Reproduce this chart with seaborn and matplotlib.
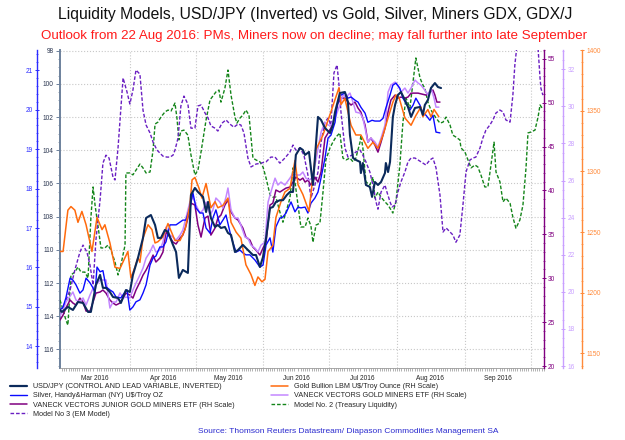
import numpy as np
import pandas as pd
import matplotlib
matplotlib.use("Agg")
import matplotlib.pyplot as plt
import matplotlib.dates as mdates
from matplotlib.lines import Line2D
from matplotlib.ticker import MultipleLocator
import seaborn as sns

# --- data (days counted from 1 Mar 2016, values in each series' own units) ---
start = pd.Timestamp("2016-03-01")

usdjpy_day = [-0.9, 0, 2.7, 5.0, 7.3, 9.6, 11.9, 13.2, 15.5, 17.4, 18.7, 20.1, 21.9, 23.3, 25.6, 26.9, 29.2, 31.0,
              32.4, 34.7, 37.0, 38.4, 40.6, 42.5, 43.8, 45.2, 47.0, 48.4, 50.7, 52.1, 53.4, 55.2, 57.5, 58.9, 60.7,
              62.1, 64.4, 65.8, 66.7, 68.0, 69.9, 71.2, 72.6, 74.4, 75.8, 77.2, 79.0, 80.4, 82.6, 84.9, 87.2, 88.6,
              90.4, 91.8, 93.2, 95.0, 96.3, 97.7, 99.5, 100.9, 102.7, 104.1, 105.5, 106.8, 108.7, 110.0, 111.0,
              112.8, 114.6, 116.9, 118.3, 120.1, 122.4, 123.7, 124.7, 126.9, 129.2, 130.6, 131.5, 132.9, 134.2,
              136.1, 136.5, 137.4, 138.8, 140.6, 141.6, 142.9, 144.3, 145.7, 147.5, 147.9, 148.9, 149.8, 151.1,
              152.1, 153.4, 154.8, 156.6, 158.0, 159.4, 161.2, 163.5, 164.8, 165.7, 167.1, 168.5, 170.3, 171.7, 173.1]
usdjpy_val = [113.62, 113.74, 113.44, 113.62, 113.14, 113.20, 113.74, 113.74, 112.11, 111.51, 112.29, 112.29, 112.54,
              112.84, 112.90, 113.20, 112.42, 112.54, 111.51, 110.49, 109.28, 108.08, 107.90, 108.50, 109.28, 109.28,
              108.80, 108.92, 109.70, 110.13, 111.69, 111.21, 111.39, 106.69, 106.27, 106.51, 106.81, 107.72, 107.11,
              108.08, 108.62, 108.50, 108.68, 108.62, 108.98, 109.10, 110.13, 110.01, 109.70, 110.01, 110.31, 110.31,
              111.03, 110.43, 109.28, 107.48, 107.42, 107.11, 107.01, 107.01, 106.69, 106.51, 106.51, 104.28, 103.86,
              103.98, 104.28, 104.10, 106.09, 101.99, 102.17, 102.66, 102.96, 102.48, 101.69, 100.55, 100.49, 101.09,
              103.08, 104.46, 104.58, 104.70, 105.37, 104.77, 106.09, 106.21, 106.81, 105.91, 106.09, 105.91, 105.37,
              104.77, 105.31, 104.70, 101.99, 101.27, 100.67, 100.49, 100.97, 101.39, 101.99, 101.45, 101.39, 101.87,
              101.27, 100.97, 100.25, 99.95, 100.19, 100.25]

silver_day = [-0.9, 0.5, 1.8, 3.7, 5.0, 6.4, 8.2, 9.6, 11.0, 12.8, 14.2, 15.1, 16.0, 17.4, 18.7, 20.1, 21.9, 23.3,
              24.7, 26.9, 28.8, 29.7, 31.0, 32.4, 33.8, 35.6, 37.0, 38.4, 40.2, 41.6, 42.9, 44.7, 46.1, 47.5, 49.3,
              50.7, 52.1, 53.9, 55.2, 56.6, 58.4, 59.8, 61.2, 63.0, 64.4, 65.8, 67.6, 68.9, 70.3, 72.1, 73.5, 74.9,
              76.7, 78.1, 79.5, 81.3, 82.6, 84.0, 85.8, 88.1, 90.4, 91.8, 93.2, 95.0, 96.3, 97.7, 99.5, 100.9, 102.3,
              104.6, 106.4, 107.8, 109.1, 111.0, 112.3, 113.7, 115.5, 116.9, 118.3, 120.1, 121.5, 122.8, 124.7,
              125.6, 127.4, 129.2, 130.6, 132.0, 133.8, 135.2, 136.5, 138.4, 139.7, 141.6, 142.9, 145.2, 146.6,
              147.9, 149.8, 151.1, 152.5, 154.3, 155.7, 157.1, 158.9, 160.3, 161.6, 163.5, 164.8, 166.2, 168.0,
              169.4, 170.8, 172.6]
silver_val = [14.92, 15.00, 15.23, 15.73, 15.68, 15.56, 15.35, 15.43, 15.73, 15.61, 15.48, 15.35, 16.01, 15.89, 15.92,
              15.51, 15.43, 15.38, 15.25, 15.23, 15.38, 15.43, 14.92, 15.00, 15.13, 15.18, 15.35, 15.56, 16.06, 16.24,
              16.29, 16.52, 16.52, 16.65, 17.08, 17.08, 17.08, 17.15, 17.20, 17.20, 17.51, 17.89, 17.51, 17.38, 17.38,
              17.00, 16.87, 17.25, 17.46, 17.08, 17.20, 17.33, 16.90, 16.62, 16.39, 16.44, 16.37, 16.32, 16.32, 16.19,
              16.01, 16.06, 16.57, 16.75, 16.39, 17.03, 17.25, 17.28, 17.38, 17.66, 17.41, 17.53, 17.51, 17.53, 17.38,
              17.63, 17.76, 17.91, 18.27, 18.77, 19.28, 19.35, 19.68, 20.11, 20.37, 20.42, 20.29, 20.32, 20.24, 20.19,
              20.06, 19.91, 19.68, 19.73, 19.71, 19.71, 19.78, 20.04, 20.37, 20.62, 20.67, 20.54, 20.29, 20.16, 19.99,
              20.11, 20.29, 20.11, 19.91, 19.86, 19.73, 19.86, 19.43, 19.41]

gdxj_day = [-0.9, 0.5, 1.8, 3.7, 5.0, 6.4, 8.2, 9.6, 11.0, 12.8, 14.2, 15.5, 17.4, 18.7, 20.1, 21.9, 23.3, 24.7,
            26.5, 27.9, 29.2, 31.0, 32.4, 33.8, 35.6, 37.0, 38.4, 40.2, 41.6, 42.9, 44.7, 46.1, 47.5, 49.3, 50.7,
            52.1, 53.9, 55.2, 56.6, 57.5, 58.9, 60.7, 62.1, 63.5, 65.3, 66.7, 68.0, 69.9, 71.2, 72.6, 74.4, 75.8,
            77.2, 79.0, 80.4, 82.6, 84.0, 85.8, 87.2, 88.6, 90.4, 91.8, 93.2, 95.0, 96.3, 97.7, 99.5, 100.9, 102.3,
            104.1, 105.5, 106.8, 108.7, 110.0, 111.0, 112.3, 113.7, 115.5, 116.9, 118.3, 120.1, 121.5, 122.8, 124.7,
            126.0, 127.4, 129.2, 130.6, 132.0, 133.8, 135.2, 136.5, 138.4, 139.7, 141.1, 142.9, 144.3, 145.7, 147.5,
            148.9, 150.2, 152.1, 153.4, 154.8, 156.6, 158.0, 159.4, 161.2, 162.6, 164.4, 166.2, 168.0, 169.4, 170.3,
            171.2, 172.6]
gdxj_val = [25.24, 25.81, 26.61, 27.52, 27.18, 26.95, 27.74, 27.29, 26.26, 26.26, 27.29, 28.31, 28.43, 28.66, 28.31,
            27.52, 27.18, 26.95, 27.18, 27.74, 28.31, 28.09, 27.74, 28.66, 29.57, 30.36, 30.93, 31.85, 32.64, 31.85,
            32.30, 32.98, 35.26, 34.69, 34.12, 33.90, 34.58, 34.92, 35.95, 36.86, 38.56, 38.34, 36.06, 34.69, 36.86,
            37.08, 34.92, 35.72, 36.86, 37.20, 38.34, 38.91, 37.54, 36.86, 36.63, 35.72, 34.69, 34.35, 33.55, 33.21,
            32.64, 33.44, 34.12, 38.34, 38.56, 40.05, 39.82, 40.05, 40.27, 40.39, 40.96, 41.53, 41.18, 41.41, 40.96,
            41.18, 40.61, 41.53, 40.96, 42.10, 45.97, 46.54, 47.11, 48.36, 49.95, 50.52, 50.52, 50.07, 49.73, 50.07,
            49.38, 48.93, 47.45, 45.51, 45.97, 45.17, 44.37, 45.51, 47.11, 48.93, 50.30, 50.87, 50.52, 50.64, 50.52,
            50.64, 51.09, 51.09, 51.09, 50.98, 50.87, 51.21, 51.44, 50.87, 50.07, 50.07]

gdx_day = [-0.9, 0.5, 1.8, 3.7, 5.0, 6.4, 8.2, 9.6, 11.0, 12.8, 14.2, 15.5, 17.4, 18.7, 20.1, 21.9, 23.3, 24.7,
           26.5, 27.9, 29.2, 31.0, 32.4, 33.8, 35.6, 37.0, 38.4, 40.2, 41.6, 42.9, 44.7, 46.1, 47.5, 49.3, 50.7,
           52.1, 53.9, 55.2, 56.6, 58.4, 59.8, 61.2, 63.0, 64.4, 65.8, 67.6, 68.9, 70.3, 72.1, 73.5, 74.9, 75.8,
           77.2, 79.0, 80.4, 81.7, 83.6, 84.9, 86.3, 88.1, 89.5, 90.9, 92.7, 94.1, 95.4, 97.3, 98.6, 100.0, 101.8,
           104.1, 105.5, 106.8, 108.7, 110.0, 111.4, 112.8, 114.2, 116.0, 118.3, 120.1, 121.5, 122.8, 124.7, 126.9,
           128.3, 129.7, 131.5, 132.9, 134.2, 136.1, 137.4, 138.4, 139.7, 141.1, 142.9, 144.3, 145.7, 147.5, 148.9,
           150.2, 152.1, 153.4, 154.8, 156.6, 158.0, 159.4, 161.2, 162.6, 163.9, 165.7, 167.1, 168.5, 169.9, 170.8,
           172.1]
gdx_val = [18.70, 19.02, 19.45, 19.77, 19.99, 19.56, 19.45, 19.67, 19.29, 19.83, 20.20, 20.37, 20.64, 20.64, 20.64,
           19.13, 19.45, 19.45, 19.94, 19.67, 19.72, 19.67, 20.10, 20.47, 20.91, 21.28, 21.82, 22.15, 22.52, 22.15,
           22.25, 22.68, 23.49, 23.06, 22.95, 22.79, 23.06, 23.33, 23.98, 24.84, 25.11, 24.68, 24.25, 24.41, 24.84,
           24.14, 24.41, 25.06, 24.84, 24.52, 25.11, 25.60, 24.41, 23.98, 23.98, 23.60, 22.95, 22.90, 22.52, 22.36,
           22.15, 22.52, 22.68, 24.84, 25.38, 26.13, 25.76, 25.92, 25.76, 26.13, 26.40, 26.30, 26.30, 26.46, 26.13,
           26.03, 26.13, 27.11, 28.61, 29.15, 28.99, 28.99, 29.37, 30.07, 30.61, 30.50, 30.72, 30.23, 29.69, 29.64,
           29.37, 28.83, 28.08, 28.29, 28.08, 27.81, 28.29, 28.99, 30.77, 31.15, 31.31, 31.15, 30.77, 30.99, 30.72,
           30.99, 31.42, 31.26, 31.15, 30.88, 30.61, 30.99, 30.45, 29.96, 29.96]

gold_day = [-0.9, 0.5, 2.7, 4.1, 5.9, 7.3, 9.1, 11.0, 13.7, 16.0, 18.3, 19.6, 21.9, 24.2, 26.5, 28.8, 30.1, 31.5,
            33.3, 34.7, 35.6, 37.0, 39.3, 41.1, 42.5, 43.8, 46.1, 48.4, 51.6, 53.9, 56.2, 58.4, 59.4, 60.7, 62.6,
            63.9, 65.8, 68.0, 69.9, 71.2, 73.5, 75.8, 77.2, 79.5, 81.7, 84.0, 86.3, 88.1, 89.5, 91.3, 92.7, 94.1,
            96.3, 97.7, 100.0, 101.8, 104.1, 106.4, 107.8, 110.0, 112.8, 116.0, 119.2, 122.8, 126.5, 127.4, 129.2,
            132.0, 134.2, 136.5, 139.7, 142.0, 144.3, 146.6, 148.9, 151.1, 152.5, 153.9, 156.6, 159.4, 161.6, 163.9,
            164.8, 167.1, 168.5, 169.9, 172.1]
gold_val = [1234, 1234, 1268, 1271, 1268, 1258, 1267, 1256, 1234, 1262, 1252, 1256, 1241, 1221, 1220, 1229, 1234,
            1212, 1221, 1229, 1225, 1245, 1256, 1252, 1241, 1242, 1246, 1257, 1243, 1243, 1252, 1272, 1293, 1295,
            1286, 1278, 1290, 1270, 1275, 1270, 1272, 1278, 1258, 1250, 1245, 1223, 1215, 1206, 1213, 1209, 1211,
            1234, 1239, 1262, 1275, 1283, 1286, 1309, 1289, 1281, 1267, 1318, 1330, 1349, 1369, 1355, 1360, 1338,
            1330, 1330, 1319, 1324, 1319, 1330, 1344, 1357, 1363, 1361, 1344, 1338, 1346, 1353, 1345, 1351, 1345,
            1351, 1345]

# liquidity models have no printed scale: 0 = bottom of frame, 100 = top
model2_day = [-0.9, 0.5, 1.8, 2.7, 4.1, 5.9, 7.3, 8.7, 10.5, 11.9, 13.2, 14.2, 15.1, 16.4, 17.8, 19.6, 21.0, 22.4,
              24.2, 25.6, 26.9, 28.8, 29.2, 31.0, 32.4, 33.8, 35.6, 37.0, 38.4, 40.2, 41.6, 42.5, 43.8, 45.2, 47.0,
              48.4, 49.8, 51.6, 52.5, 53.4, 54.3, 55.7, 57.5, 58.9, 60.7, 62.1, 63.5, 65.8, 67.6, 68.9, 70.3, 71.7,
              72.6, 74.4, 75.8, 77.2, 79.0, 79.9, 81.3, 82.6, 84.0, 85.4, 87.2, 88.6, 90.4, 91.8, 93.2, 95.0, 96.3,
              97.7, 99.5, 100.9, 102.3, 104.1, 105.5, 106.4, 107.8, 109.1, 111.0, 112.3, 113.7, 114.6, 116.0, 117.8,
              119.2, 120.5, 122.4, 123.7, 125.1, 126.9, 128.3, 129.7, 131.5, 132.9, 134.2, 136.1, 136.5, 137.4, 138.8,
              140.6, 142.0, 142.9, 144.3, 145.7, 147.5, 148.9, 151.1, 152.5, 154.3, 155.7, 157.1, 158.9, 160.3, 161.6,
              163.5, 164.8, 165.7, 167.1, 168.5, 170.8, 172.6, 174.0, 175.4, 177.2, 178.5, 179.9, 181.7, 182.2, 184.0,
              185.4, 186.8, 188.6, 189.9, 191.3, 193.1, 194.5, 195.9, 197.3, 198.2, 200.0, 201.4, 202.7, 204.6, 205.9,
              207.3, 209.1, 210.5, 211.9, 212.8, 214.2, 216.0, 217.4, 218.3, 219.2]
model2_val = [21.3, 18.2, 15.0, 13.4, 29.2, 30.1, 31.7, 30.1, 30.1, 28.2, 47.1, 56.9, 51.2, 44.9, 37.7, 37.7, 38.6,
              37.0, 33.3, 29.2, 32.3, 38.6, 61.3, 61.3, 60.7, 62.2, 64.1, 62.9, 61.3, 61.6, 68.5, 76.7, 77.3, 78.9,
              80.5, 81.1, 80.8, 83.3, 78.6, 71.7, 74.5, 74.8, 73.2, 67.0, 60.7, 62.2, 67.9, 78.0, 84.3, 85.5, 86.8,
              87.4, 83.6, 88.0, 93.7, 85.8, 78.9, 77.0, 78.6, 79.5, 81.1, 79.5, 66.0, 65.4, 64.8, 63.2, 59.7, 54.4,
              53.7, 53.7, 49.0, 45.8, 49.0, 53.4, 62.9, 58.5, 51.2, 44.3, 44.3, 47.1, 44.6, 39.5, 44.9, 45.5, 55.3,
              65.4, 69.2, 71.0, 72.6, 73.9, 66.0, 65.4, 66.0, 64.8, 66.0, 71.0, 73.2, 69.2, 58.5, 57.5, 60.0, 53.4,
              55.3, 53.7, 52.2, 51.2, 48.7, 52.2, 63.8, 77.3, 84.9, 81.8, 89.9, 97.5, 91.2, 89.0, 88.0, 83.6, 81.1,
              78.6, 77.0, 77.3, 78.9, 76.4, 73.2, 72.6, 71.7, 69.2, 67.9, 65.4, 62.9, 63.8, 63.2, 60.7, 56.9, 56.9,
              63.8, 71.0, 61.6, 58.5, 52.2, 53.4, 51.8, 47.4, 43.9, 46.5, 51.2, 62.9, 73.9, 74.2, 74.8, 78.9, 82.7,
              81.8]

model3_day = [0.9, 3.7, 5.9, 8.2, 9.6, 11.4, 12.8, 14.2, 15.5, 17.4, 18.7, 20.1, 21.5, 23.3, 24.2, 25.6, 26.9, 27.9,
              29.7, 31.0, 32.4, 33.8, 35.6, 37.0, 38.4, 40.2, 41.6, 43.4, 44.7, 46.1, 47.9, 49.3, 50.7, 51.6, 53.0,
              54.3, 55.7, 57.5, 58.9, 60.7, 62.1, 63.5, 65.3, 66.7, 68.0, 69.9, 71.2, 73.1, 74.9, 76.7, 78.5, 80.4,
              81.7, 83.1, 84.9, 86.3, 88.6, 90.9, 93.2, 95.4, 97.3, 99.5, 101.8, 104.1, 105.5, 106.8, 108.7, 110.5,
              112.3, 113.7, 115.5, 116.9, 118.3, 120.1, 121.5, 122.8, 124.2, 125.6, 126.5, 127.4, 129.2, 130.6, 132.4,
              134.2, 136.1, 137.4, 138.8, 140.6, 142.0, 143.4, 144.3, 145.7, 147.5, 148.4, 149.8, 150.7, 152.1, 153.4,
              154.8, 156.6, 158.0, 159.4, 161.2, 162.6, 164.8, 166.2, 168.0, 169.4, 170.8, 172.6, 174.0, 175.4, 177.2,
              178.5, 179.9, 181.7, 183.1, 184.5, 186.3, 187.7, 189.0, 190.9, 192.2, 193.6, 195.4, 196.8, 198.2, 200.0,
              201.4, 202.7, 204.6, 205.9, 206.8, 207.8, 209.1, 212.3, 216.0, 217.4, 218.3, 218.7, 219.6]
model3_val = [19.7, 24.5, 30.8, 36.4, 38.6, 36.4, 32.3, 26.0, 40.2, 52.8, 64.4, 66.9, 66.0, 60.0, 59.1, 69.2, 81.8,
              91.2, 86.8, 83.0, 87.4, 93.7, 92.4, 81.1, 76.4, 73.9, 71.0, 68.5, 67.6, 66.6, 66.3, 66.3, 66.9, 68.5,
              72.3, 82.4, 85.5, 83.0, 75.4, 75.4, 82.4, 82.7, 80.2, 78.6, 76.1, 75.4, 74.5, 77.0, 78.0, 76.7, 75.7,
              76.7, 76.4, 73.9, 66.0, 63.2, 64.1, 64.4, 64.8, 66.3, 66.3, 64.4, 66.0, 67.9, 70.1, 68.5, 69.2, 66.9,
              60.7, 53.4, 57.5, 61.6, 71.0, 77.3, 78.6, 76.4, 92.8, 95.3, 89.0, 80.5, 69.2, 66.3, 66.9, 67.9, 68.5,
              66.9, 64.8, 61.6, 57.5, 52.2, 49.9, 55.3, 57.5, 55.3, 52.2, 50.6, 51.2, 55.3, 58.5, 61.6, 64.8, 66.0,
              66.0, 65.4, 64.4, 63.8, 65.4, 66.0, 62.9, 54.4, 42.7, 44.0, 42.7, 41.8, 39.5, 41.8, 51.2, 61.6, 65.4,
              66.0, 66.3, 69.2, 72.3, 74.8, 76.4, 78.0, 80.2, 81.1, 80.5, 78.0, 77.3, 85.8, 95.3, 101.6, 112.6, 122.0,
              112.6, 100.6, 91.2, 88.0, 85.8]

# --- style ---
sns.set_style("white")
plt.rcParams["font.family"] = ["Liberation Sans", "DejaVu Sans"]

c_usd = "#0b2a5b"
c_silver = "#0a0aff"
c_gdxj = "#800080"
c_gdx = "#c387ff"
c_gold = "#ff6a0d"
c_m2 = "#14851a"
c_m3 = "#6a1fc2"
dash = (0, (2.6, 1.4))
tick_fs = 4.7


def draw(axis, day, val, color, lw, dashed=False):
    dates = start + pd.to_timedelta(np.asarray(day, dtype=float), unit="D")
    kw = {"linestyle": dash} if dashed else {}
    sns.lineplot(x=dates, y=np.asarray(val, dtype=float), ax=axis, color=color,
                 linewidth=lw, sort=False, estimator=None, **kw)


fig = plt.figure(figsize=(6.25, 4.4), dpi=100)
ax = fig.add_axes([0.096, 0.1643, 0.774, 0.722])

ax_m = ax.twinx()      # liquidity models, no scale shown
ax_j = ax.twinx()      # GDXJ
ax_g = ax.twinx()      # GDX
ax_s = ax.twinx()      # silver (outer left)
ax_au = ax.twinx()     # gold (outer right)
ax_top = ax.twinx()    # USD/JPY drawn on top of everything

draw(ax_m, model2_day, model2_val, c_m2, 1.0, dashed=True)
draw(ax_m, model3_day, model3_val, c_m3, 1.0, dashed=True)
draw(ax_j, gdxj_day, gdxj_val, c_gdxj, 1.1)
draw(ax_g, gdx_day, gdx_val, c_gdx, 1.1)
draw(ax_s, silver_day, silver_val, c_silver, 1.0)
draw(ax_au, gold_day, gold_val, c_gold, 1.1)
draw(ax_top, usdjpy_day, usdjpy_val, c_usd, 1.5)

for a in [ax, ax_m, ax_j, ax_g, ax_s, ax_au, ax_top]:
    a.set_xlabel("")
    a.set_ylabel("")
    for sp in a.spines.values():
        sp.set_visible(False)

# x axis
ax.set_xlim(start + pd.Timedelta(days=-0.9), start + pd.Timedelta(days=220))
ax.xaxis.set_major_locator(mdates.MonthLocator(bymonthday=16))
ax.xaxis.set_major_formatter(mdates.DateFormatter("%b %Y"))
ax.xaxis.set_minor_locator(mdates.DayLocator())
ax.tick_params(axis="x", which="major", bottom=True, length=0, labelsize=tick_fs, pad=5, labelcolor="#222222")
ax.tick_params(axis="x", which="minor", bottom=True, length=2, width=0.4, color="#777777")
ax.spines["bottom"].set_visible(True)
ax.spines["bottom"].set_color("#9a9a9a")
ax.spines["bottom"].set_linewidth(0.6)
for m in pd.date_range("2016-04-01", "2016-10-01", freq="MS"):
    ax.axvline(m, color="#c8c8c8", lw=0.8, ls=":", zorder=0)

# USD/JPY host scale (inverted)
ax.set_ylim(117.1, 97.96)
ax_top.set_ylim(117.1, 97.96)
ax_top.axis("off")
ax.yaxis.set_major_locator(MultipleLocator(2))
ax.yaxis.set_minor_locator(MultipleLocator(0.5))
ax.grid(axis="y", which="major", ls=":", color="#c8c8c8", lw=0.8)
ax.spines["left"].set_visible(True)
ax.spines["left"].set_color("#6d819c")
ax.spines["left"].set_linewidth(1.4)
ax.tick_params(axis="y", which="major", left=True, length=3, width=0.7, color="#6d819c",
               labelsize=tick_fs, labelcolor="#2a3550", pad=1.5)
ax.tick_params(axis="y", which="minor", left=True, length=1.6, width=0.5, color="#6d819c")

# models: hidden scale
ax_m.set_ylim(0, 100)
ax_m.axis("off")


def side_axis(a, side, offset, color, lo, hi, major, minor):
    a.set_ylim(lo, hi)
    sp = a.spines[side]
    sp.set_visible(True)
    sp.set_color(color)
    sp.set_linewidth(1.0)
    sp.set_position(("outward", offset))
    if side == "left":
        a.yaxis.tick_left()
    else:
        a.yaxis.tick_right()
    a.yaxis.set_major_locator(MultipleLocator(major))
    a.yaxis.set_minor_locator(MultipleLocator(minor))
    kw = {side: True}
    a.tick_params(axis="y", which="major", direction="inout", length=3.2, width=0.7, color=color,
                  labelsize=tick_fs, labelcolor=color, pad=1.5, **kw)
    a.tick_params(axis="y", which="minor", direction="inout", length=1.8, width=0.5, color=color, **kw)


side_axis(ax_s, "left", 16.6, "#2c2cff", 13.46, 21.51, 1, 0.2)
side_axis(ax_j, "right", 0, c_gdxj, 19.81, 56.0, 5, 1)
side_axis(ax_g, "right", 14.0, "#c9a0ff", 15.91, 33.04, 2, 0.5)
side_axis(ax_au, "right", 27.7, "#ff8a3a", 1138.2, 1400, 50, 10)

# titles
fig.text(0.504, 1 - 15 / 440, "Liquidity Models, USD/JPY (Inverted) vs Gold, Silver, Miners GDX, GDX/J",
         ha="center", va="center", fontsize=11.3, color="#111111")
fig.text(0.502, 1 - 36 / 440,
         "Outlook from 22 Aug 2016: PMs, Miners now on decline; may fall further into late September",
         ha="center", va="center", fontsize=9.6, color="#ff1a1a")

# legends
h_left = [Line2D([], [], color=c_usd, lw=1.6),
          Line2D([], [], color=c_silver, lw=1.0),
          Line2D([], [], color=c_gdxj, lw=1.1),
          Line2D([], [], color=c_m3, lw=1.0, linestyle=dash)]
l_left = ["USD/JPY (CONTROL AND LEAD VARIABLE, INVERTED)",
          "Silver, Handy&Harman (NY) U$/Troy OZ",
          "VANECK VECTORS JUNIOR GOLD MINERS ETF (RH Scale)",
          "Model No 3 (EM Model)"]
h_right = [Line2D([], [], color=c_gold, lw=1.1),
           Line2D([], [], color=c_gdx, lw=1.1),
           Line2D([], [], color=c_m2, lw=1.0, linestyle=dash)]
l_right = ["Gold Bullion LBM U$/Troy Ounce (RH Scale)",
           "VANECK VECTORS GOLD MINERS ETF (RH Scale)",
           "Model No. 2 (Treasury Liquidity)"]
leg_kw = dict(loc="upper left", frameon=False, fontsize=5.2, handlelength=2.3, handletextpad=0.9,
              labelspacing=0.3, borderpad=0, borderaxespad=0)
fig.legend(h_left, l_left, bbox_to_anchor=(10 / 625, 1 - 383 / 440), **leg_kw)
fig.legend(h_right, l_right, bbox_to_anchor=(271 / 625, 1 - 383 / 440), **leg_kw)

fig.text(0.557, 1 - 431 / 440, "Source: Thomson Reuters Datastream/ Diapason Commodities Management SA",
         ha="center", va="center", fontsize=6.0, color="#2a2acf")

fig.savefig("out.png", dpi=100)
